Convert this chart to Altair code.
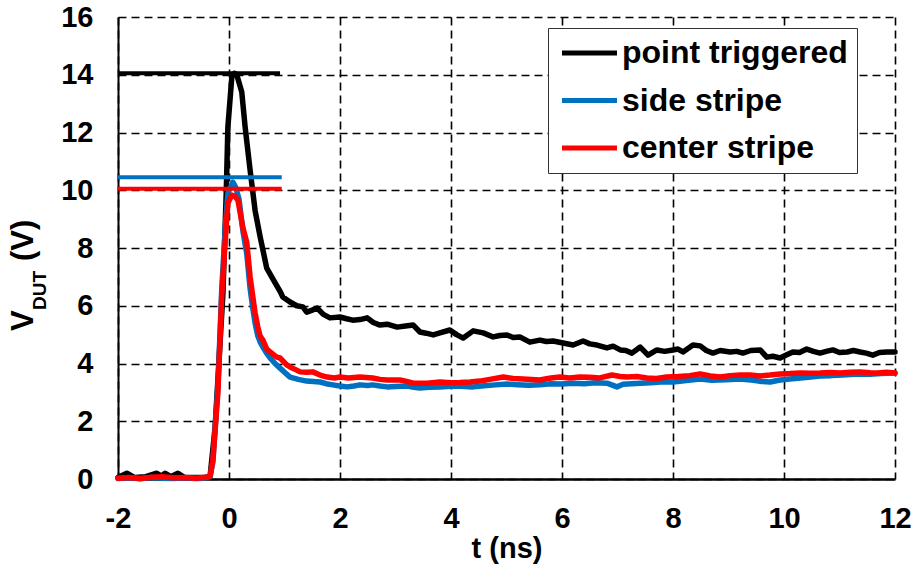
import altair as alt
import pandas as pd

series_names = ["point triggered", "side stripe", "center stripe"]
series_colors = ["#000000", "#0070C0", "#FF0000"]

black_t = [-2.0, -1.84, -1.7, -1.5, -1.3, -1.22, -1.15, -1.05, -0.92, -0.8, -0.6, -0.45, -0.34, -0.25,
           -0.11, -0.05, -0.02, 0.05, 0.1, 0.14, 0.23, 0.29, 0.38, 0.47, 0.56, 0.68, 0.8, 0.92, 0.97,
           1.1, 1.22, 1.33, 1.4, 1.5, 1.59, 1.7, 1.82, 2.0, 2.12, 2.23, 2.36, 2.49, 2.6, 2.72, 2.85,
           3.03, 3.18, 3.32, 3.44, 3.55, 3.68, 3.8, 3.98, 4.1, 4.22, 4.4, 4.58, 4.76, 4.88, 5.01,
           5.12, 5.24, 5.42, 5.6, 5.72, 5.84, 6.02, 6.2, 6.38, 6.5, 6.63, 6.81, 6.92, 7.05, 7.15,
           7.26, 7.41, 7.55, 7.71, 7.85, 8.0, 8.09, 8.18, 8.36, 8.49, 8.6, 8.72, 8.85, 9.03, 9.15,
           9.26, 9.4, 9.57, 9.69, 9.8, 9.93, 10.05, 10.16, 10.28, 10.41, 10.53, 10.65, 10.76,
           10.88, 11.0, 11.14, 11.25, 11.37, 11.48, 11.6, 11.72, 11.86, 12.0]
black_v = [0.05, 0.2, 0.05, 0.08, 0.2, 0.1, 0.2, 0.08, 0.2, 0.05, 0.05, 0.05, 0.1, 1.8,
           6.4, 9.9, 12.2, 13.9, 14.05, 14.0, 13.4, 12.2, 10.7, 9.3, 8.4, 7.3, 6.9, 6.5, 6.3,
           6.13, 6.0, 5.96, 5.78, 5.85, 5.92, 5.7, 5.58, 5.61, 5.55, 5.5, 5.52, 5.58, 5.42, 5.33, 5.36,
           5.26, 5.3, 5.33, 5.09, 5.05, 4.99, 5.06, 5.16, 5.0, 4.88, 5.13, 5.06, 4.92, 4.97, 4.99,
           4.9, 4.92, 4.74, 4.81, 4.76, 4.78, 4.71, 4.64, 4.78, 4.68, 4.64, 4.54, 4.6, 4.47, 4.45,
           4.36, 4.57, 4.29, 4.47, 4.42, 4.47, 4.5, 4.4, 4.64, 4.61, 4.45, 4.36, 4.45, 4.4, 4.42,
           4.36, 4.45, 4.47, 4.22, 4.25, 4.19, 4.3, 4.4, 4.38, 4.5, 4.42, 4.36, 4.42,
           4.47, 4.38, 4.4, 4.45, 4.4, 4.36, 4.29, 4.38, 4.4, 4.4]

side_t = [-2.0, -1.8, -1.6, -1.4, -1.2, -1.0, -0.8, -0.6, -0.45, -0.34, -0.29, -0.2, -0.13, -0.07,
          -0.02, 0.07, 0.12, 0.18, 0.25, 0.32, 0.38, 0.43, 0.47, 0.52, 0.56, 0.61, 0.68, 0.74, 0.83,
          0.92, 1.0, 1.1, 1.25, 1.4, 1.52, 1.64, 1.75, 1.87, 2.0, 2.13, 2.25, 2.36, 2.5, 2.59, 2.72,
          2.85, 3.0, 3.21, 3.33, 3.44, 3.6, 3.8, 4.0, 4.11, 4.25, 4.4, 4.6, 4.8, 5.01, 5.2, 5.4, 5.6,
          5.8, 6.0, 6.2, 6.4, 6.6, 6.81, 6.99, 7.1, 7.25, 7.41, 7.6, 7.77, 8.0, 8.2, 8.49, 8.7, 8.95,
          9.21, 9.45, 9.6, 9.75, 9.93, 10.1, 10.3, 10.48, 10.65, 10.85, 11.05, 11.2, 11.37, 11.55,
          11.75, 12.0]
side_v = [0.02, 0.04, 0.01, 0.05, 0.03, 0.02, 0.04, 0.02, 0.03, 0.08, 0.6, 3.2, 6.6, 8.6,
          9.9, 10.28, 10.1, 9.7, 8.6, 7.8, 6.6, 5.9, 5.4, 4.95, 4.75, 4.57, 4.35, 4.19, 4.0,
          3.84, 3.7, 3.53, 3.45, 3.39, 3.38, 3.36, 3.3, 3.26, 3.22, 3.19, 3.22, 3.26, 3.24, 3.26, 3.22,
          3.19, 3.2, 3.22, 3.18, 3.15, 3.18, 3.19, 3.21, 3.22, 3.2, 3.19, 3.23, 3.26, 3.29, 3.26, 3.25, 3.26,
          3.3, 3.29, 3.32, 3.3, 3.33, 3.32, 3.19, 3.28, 3.3, 3.32, 3.33, 3.36, 3.36, 3.4, 3.46, 3.42, 3.44,
          3.46, 3.42, 3.38, 3.36, 3.43, 3.46, 3.5, 3.53, 3.57, 3.58, 3.6, 3.62, 3.64, 3.63,
          3.65, 3.67]

center_t = [-2.0, -1.8, -1.6, -1.4, -1.2, -1.0, -0.8, -0.6, -0.45, -0.34, -0.29, -0.2, -0.13, -0.07,
            -0.02, 0.05, 0.1, 0.16, 0.25, 0.32, 0.38, 0.43, 0.47, 0.52, 0.56, 0.61, 0.68, 0.74, 0.86,
            0.92, 1.04, 1.1, 1.22, 1.28, 1.4, 1.51, 1.64, 1.77, 1.9, 2.0, 2.15, 2.36, 2.59, 2.72, 2.85,
            3.08, 3.2, 3.32, 3.57, 3.8, 4.0, 4.16, 4.34, 4.52, 4.7, 4.94, 5.12, 5.3, 5.6, 5.8, 5.96,
            6.14, 6.32, 6.5, 6.68, 6.9, 7.05, 7.17, 7.35, 7.53, 7.7, 7.89, 8.09, 8.3, 8.49, 8.67, 8.85,
            9.03, 9.21, 9.39, 9.57, 9.75, 9.93, 10.11, 10.29, 10.47, 10.65, 10.83, 11.01, 11.19, 11.37,
            11.55, 11.68, 11.85, 12.0]
center_v = [0.03, 0.05, 0.02, 0.06, 0.08, 0.04, 0.05, 0.03, 0.05, 0.1, 0.66, 3.0, 6.4, 8.2,
            9.56, 9.83, 9.8, 9.66, 8.7, 8.2, 7.0, 6.3, 5.75, 5.26, 4.95, 4.81, 4.5, 4.4, 4.22,
            4.19, 3.95, 3.88, 3.77, 3.71, 3.7, 3.71, 3.6, 3.53, 3.5, 3.53, 3.5, 3.53, 3.5, 3.45, 3.43,
            3.43, 3.38, 3.32, 3.32, 3.36, 3.33, 3.34, 3.36, 3.39, 3.45, 3.53, 3.48, 3.46, 3.43, 3.5, 3.53,
            3.5, 3.53, 3.52, 3.5, 3.6, 3.55, 3.53, 3.55, 3.5, 3.48, 3.53, 3.55, 3.58, 3.64, 3.57, 3.53,
            3.58, 3.6, 3.6, 3.57, 3.6, 3.64, 3.65, 3.67, 3.66, 3.67, 3.69, 3.67, 3.7, 3.71,
            3.68, 3.67, 3.7, 3.67]

ref_values = [14.05, 10.45, 10.05]
ref_start = [-2.0, -2.0, -2.0]
ref_end = [0.92, 0.95, 0.95]

x_ticks = [-2, 0, 2, 4, 6, 8, 10, 12]
y_ticks = [0, 2, 4, 6, 8, 10, 12, 14, 16]
x_title = "t (ns)"
y_title_parts = ["V", "DUT", "(V)"]

FONT = "Liberation Sans"

frames = []
for name, ts, vs in [(series_names[0], black_t, black_v),
                     (series_names[1], side_t, side_v),
                     (series_names[2], center_t, center_v)]:
    frames.append(pd.DataFrame({"t": ts, "v": vs, "series": name}))

ref_df = pd.DataFrame({"series": series_names, "v": ref_values, "t0": ref_start, "t1": ref_end})

color = alt.Color(
    "series:N",
    scale=alt.Scale(domain=series_names, range=series_colors),
    legend=alt.Legend(
        title=None, orient="none", legendX=430, legendY=11, direction="vertical",
        strokeColor="#333333", fillColor="white", padding=9,
        symbolType="M0,0H8", symbolSize=189, symbolStrokeWidth=5, symbolOpacity=1,
        symbolOffset=-11,
        labelFont=FONT, labelFontWeight="bold", labelFontSize=32, labelColor="black",
        labelOffset=44, labelLimit=400, rowPadding=15.5,
    ),
)

x_enc = alt.X(
    "t:Q",
    scale=alt.Scale(domain=[-2, 12], nice=False, zero=False),
    axis=alt.Axis(
        values=x_ticks, title=x_title, grid=True, gridColor="black", gridDash=[8, 5], gridWidth=1.6,
        domainColor="black", domainWidth=2.5, ticks=False, labelFont=FONT, labelFontWeight="bold",
        labelFontSize=29, labelColor="black", labelPadding=25, labelFlush=False, labelOverlap=False,
        labelExpr="'' + datum.value",
        titleFont=FONT, titleFontWeight="bold", titleFontSize=29, titleColor="black",
        titleY=78, titleBaseline="alphabetic",
    ),
)
y_enc = alt.Y(
    "v:Q",
    scale=alt.Scale(domain=[0, 16], nice=False),
    axis=alt.Axis(
        values=y_ticks, title=None, grid=True, gridColor="black", gridDash=[8, 5], gridWidth=1.6,
        domainColor="black", domainWidth=2, ticks=False, labelFont=FONT, labelFontWeight="bold",
        labelFontSize=29, labelColor="black", labelPadding=25, labelFlush=False, labelOverlap=False,
        labelExpr="'' + datum.value",
    ),
)

refs = alt.Chart(ref_df).mark_rule(strokeWidth=4).encode(
    x=alt.X("t0:Q", scale=alt.Scale(domain=[-2, 12], nice=False, zero=False)),
    x2="t1:Q",
    y=alt.Y("v:Q", scale=alt.Scale(domain=[0, 16], nice=False)),
    color=color,
)

layers = []
for f in frames:
    layers.append(
        alt.Chart(f).mark_line(strokeWidth=5.5, strokeJoin="round", strokeCap="round").encode(
            x=x_enc, y=y_enc, color=color
        )
    )

def title_piece(text, size, xpos, ypos):
    return alt.Chart(pd.DataFrame({"s": [text]})).mark_text(
        angle=270, align="left", baseline="alphabetic", font=FONT, fontWeight="bold",
        fontSize=size, color="black",
    ).encode(text="s:N", x=alt.value(xpos), y=alt.value(ypos))

ytitle = [
    title_piece(y_title_parts[0], 31, -85, 314),
    title_piece(y_title_parts[1], 19, -72, 293),
    title_piece(y_title_parts[2], 31, -85, 244),
]

chart = alt.layer(*layers, refs, *ytitle).resolve_scale(color="shared").properties(
    width=777, height=462,
    padding={"left": 118, "top": 17, "right": 22, "bottom": 90},
    autosize=alt.AutoSizeParams(type="none"),
    background="white",
).configure_view(stroke=None)

chart.save("out.html", embed_options={"renderer": "svg", "actions": False})
